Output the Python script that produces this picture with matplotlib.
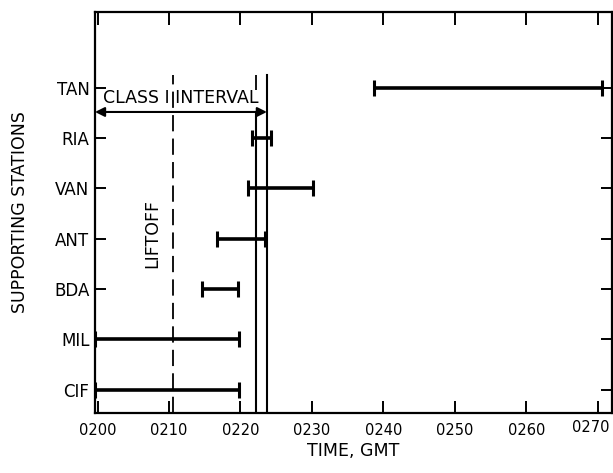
import matplotlib
matplotlib.use("Agg")
import matplotlib.pyplot as plt
import matplotlib.transforms as mtransforms

# ---- data ----
stations = ['CIF', 'MIL', 'BDA', 'ANT', 'VAN', 'RIA', 'TAN']
start_min = [199.7, 199.7, 214.6, 216.7, 221.0, 221.6, 238.7]
end_min = [219.8, 219.8, 219.7, 223.5, 230.2, 224.3, 270.6]
x_ticks = [200, 210, 220, 230, 240, 250, 260, 270]
x_ticklabels = ['0200', '0210', '0220', '0230', '0240', '0250', '0260', '0270']
liftoff_time = 210.5
event_lines = [222.2, 223.7]
class1_interval = [199.65, 223.7]

plt.rcParams['font.family'] = ['DejaVu Sans']

fig = plt.figure(figsize=(6.13, 4.73), dpi=100)
ax = fig.add_axes([0.155, 0.127, 0.843, 0.848])

ypos = list(range(len(stations)))
for y, s, e in zip(ypos, start_min, end_min):
    ax.plot([s, e], [y, y], color='black', lw=2.6, solid_capstyle='butt',
            marker='|', markersize=12, markeredgewidth=2.2)

# liftoff dashed line
ax.plot([liftoff_time, liftoff_time], [-0.46, 6.26], color='black', lw=1.3,
        dashes=(9, 4))
ax.text(liftoff_time - 2.9, 3.1, 'LIFTOFF', rotation=90, ha='center',
        va='center', fontsize=12.5)

# event lines
ax.plot([event_lines[0], event_lines[0]], [-0.46, 5.52], color='black', lw=1.5)
ax.plot([event_lines[0], event_lines[0]], [5.95, 6.26], color='black', lw=1.3,
        dashes=(9, 4))
ax.plot([event_lines[1], event_lines[1]], [-0.46, 6.26], color='black', lw=1.5)

# class I interval arrow
ax.annotate('', xy=(class1_interval[0], 5.52), xytext=(class1_interval[1], 5.52),
            arrowprops=dict(arrowstyle='<|-|>', color='black', lw=1.5,
                            mutation_scale=14, shrinkA=0, shrinkB=0))
ax.text(211.6, 5.8, 'CLASS I INTERVAL', ha='center', va='center', fontsize=12.5)

ax.set_xlim(199.65, 271.96)
ax.set_ylim(-0.46, 7.51)
ax.set_xticks(x_ticks)
ax.set_xticklabels(x_ticklabels)
ax.set_yticks(ypos)
ax.set_yticklabels(stations)

ax.tick_params(axis='x', direction='in', length=9, width=1.4, top=True,
               labelsize=10.5, pad=7)
ax.tick_params(axis='y', direction='in', length=8, width=1.4, right=True,
               labelsize=12, pad=4)
for sp in ax.spines.values():
    sp.set_linewidth(1.6)

# last tick label sits a little left and higher in the reference
last = ax.get_xticklabels()[-1]
last.set_transform(last.get_transform() +
                   mtransforms.ScaledTranslation(-7 / 100, 3 / 100, fig.dpi_scale_trans))

ax.set_xlabel('TIME, GMT', fontsize=12.5, labelpad=3)
ax.set_ylabel('SUPPORTING STATIONS', fontsize=12.5, labelpad=18)

fig.savefig('out.png', dpi=100)
